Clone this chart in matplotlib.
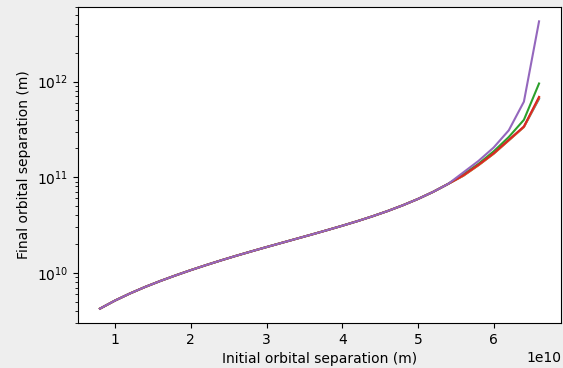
import matplotlib

matplotlib.use("Agg")

import matplotlib.pyplot as plt
import numpy as np

# initial separation (units of 1e10 m)
a_init = [0.8, 1.0, 1.2, 1.4, 1.6, 1.8, 2.0, 2.2, 2.4, 2.6, 2.8, 3.0, 3.2, 3.4, 3.6,
          3.8, 4.0, 4.2, 4.4, 4.6, 4.8, 5.0, 5.2, 5.4, 5.6, 5.8, 6.0, 6.2, 6.4, 6.6]

# log10 of final separation, shared by all runs up to x = 5.4e10
base_log = [9.625, 9.710, 9.785, 9.853, 9.915, 9.973, 10.028, 10.080, 10.130,
            10.178, 10.224, 10.269, 10.313, 10.357, 10.401, 10.446, 10.492,
            10.540, 10.591, 10.646, 10.706, 10.772, 10.846, 10.930]

# tails (x = 5.6 ... 6.6) for each run
tail_c0 = [11.015, 11.125, 11.245, 11.385, 11.525, 11.82]
tail_c1 = [11.015, 11.125, 11.245, 11.385, 11.525, 11.83]
tail_c2 = [11.030, 11.140, 11.270, 11.420, 11.600, 11.98]
tail_c3 = [11.020, 11.130, 11.250, 11.390, 11.530, 11.84]
tail_c4 = [11.050, 11.170, 11.310, 11.490, 11.790, 12.63]

runs = [("C0", tail_c0), ("C1", tail_c1), ("C2", tail_c2), ("C3", tail_c3), ("C4", tail_c4)]

fig = plt.figure(figsize=(5.63, 3.68), dpi=100, facecolor="#eeeeee")
ax = fig.add_axes([78 / 563, 45 / 368, 483 / 563, 316 / 368])
ax.set_facecolor("white")

x = np.array(a_init) * 1e10
for c, tail in runs:
    logs = np.array(base_log + tail)
    ax.plot(x, 10 ** logs, color=c)

ax.set_yscale("log")
ax.set_xlabel("Initial orbital separation (m)")
ax.set_ylabel("Final orbital separation (m)")

fig.savefig("out.png", dpi=100, facecolor=fig.get_facecolor())
